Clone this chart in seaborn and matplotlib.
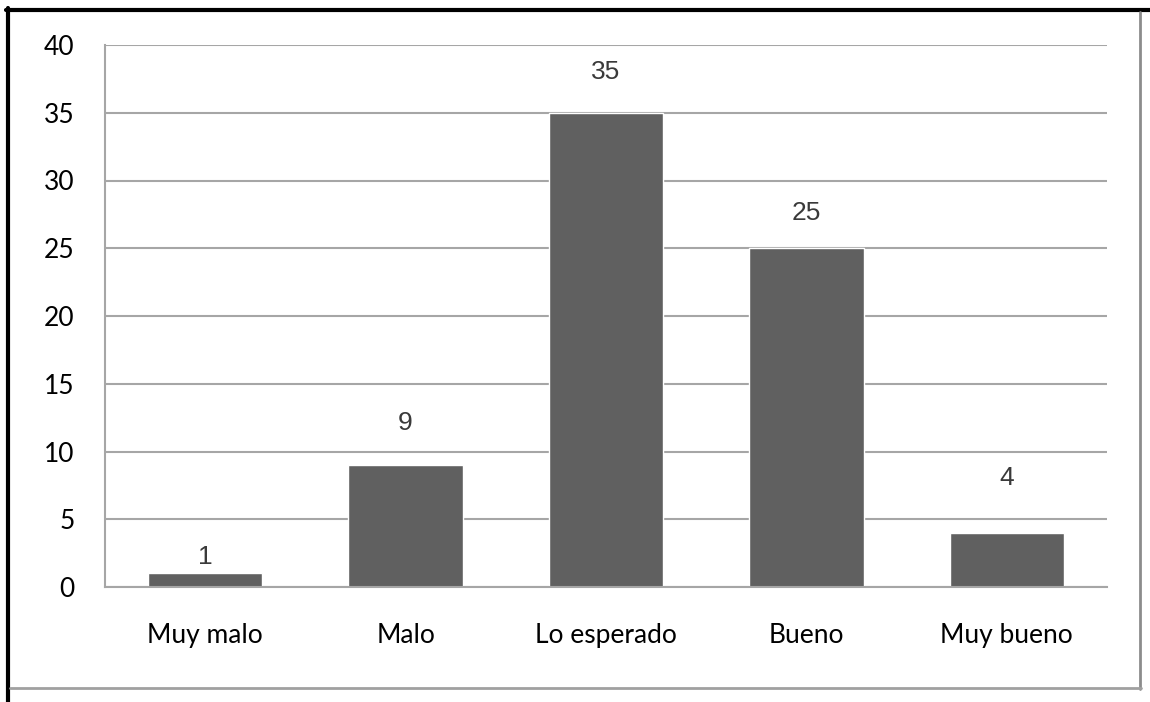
import matplotlib
matplotlib.use("Agg")
import matplotlib.pyplot as plt
from matplotlib.lines import Line2D
import seaborn as sns
import pandas as pd

# Survey responses per rating category
categories = ["Muy malo", "Malo", "Lo esperado", "Bueno", "Muy bueno"]
counts = [1, 9, 35, 25, 4]
y_ticks = [0, 5, 10, 15, 20, 25, 30, 35, 40]

# Vertical offset (points) of each value label above its bar
label_offsets = [12, 30, 29, 25.5, 39.5]

sns.set_style("white")
plt.rcParams["font.family"] = ["Lato", "DejaVu Sans"]

W, H = 1150, 702
fig = plt.figure(figsize=(W / 100, H / 100), dpi=100)
ax = fig.add_axes([105 / W, 1 - 587 / H, (1107 - 105) / W, (587 - 45) / H])

df = pd.DataFrame({"categoria": categories, "n": counts})
sns.barplot(data=df, x="categoria", y="n", order=categories, color="#606060",
            saturation=1, width=0.57, ax=ax)

grid_col = "#a6a6a6"
ax.set_ylim(0, 40)
ax.set_yticks(y_ticks)
ax.set_yticklabels([str(t) for t in y_ticks], fontsize=19)
ax.yaxis.grid(True, color=grid_col, linewidth=1.5)
ax.set_axisbelow(True)
ax.tick_params(axis="y", length=0, pad=22, colors="black")
ax.tick_params(axis="x", length=0, pad=26, labelsize=19, colors="black")
ax.set_xlabel("")
ax.set_ylabel("")
for side in ["top", "right"]:
    ax.spines[side].set_visible(False)
for side in ["left", "bottom"]:
    ax.spines[side].set_color(grid_col)
    ax.spines[side].set_linewidth(1.5)

for i, (v, off) in enumerate(zip(counts, label_offsets)):
    ax.annotate(str(v), xy=(i, v), xytext=(0, off), textcoords="offset points",
                ha="center", va="center", fontsize=19, color="#3a3a3a",
                family="Liberation Sans")

# Frame around the chart
def fx(px):
    return px / W

def fy(py):
    return 1 - py / H

fig.add_artist(Line2D([fx(6), fx(1150)], [fy(10), fy(10)], color="black", linewidth=3))
fig.add_artist(Line2D([fx(8), fx(8)], [fy(8), fy(702)], color="black", linewidth=3))
fig.add_artist(Line2D([fx(1140), fx(1140)], [fy(12), fy(689)], color="#8c8c8c", linewidth=2))
fig.add_artist(Line2D([fx(10), fx(1141)], [fy(688), fy(688)], color="#a0a0a0", linewidth=2))

fig.savefig("out.png", dpi=100)
